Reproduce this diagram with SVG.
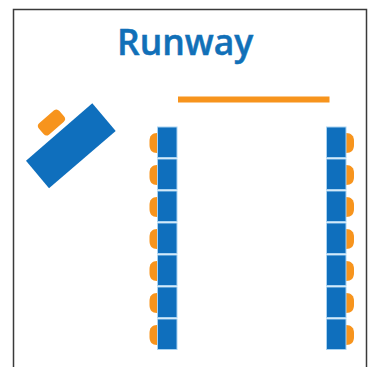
<svg xmlns="http://www.w3.org/2000/svg" width="368" height="367" viewBox="0 0 368 367">
<style>
.t{fill:#0f6fbd;stroke:#a9d3f2;stroke-width:1}
.c{fill:#f7941d}
.title{font-family:"Open Sans",sans-serif;font-weight:600;font-size:35.500px;fill:#1170b8;stroke:#1170b8;stroke-width:0.500px}
</style>
<defs>
<path id="cl" class="c" d="M158 -10H157C152 -10 149.500 -7 149.500 -2V2C149.500 7 152 10 157 10H158Z"/>
<path id="cr" class="c" d="M345 -10H346C351.500 -10 354 -7 354 -2V2C354 7 351.500 10 346 10H345Z"/>
</defs>
<rect width="368" height="367" fill="#fff"/>
<path d="M13.500 367V9.500H366.500V367" fill="none" stroke="#3a3a3a" stroke-width="1.500"/>
<text id="title" class="title" x="117" y="54.500">Runway</text>
<rect id="stage" x="178" y="96.500" width="151.500" height="6" fill="#f7941d"/>
<g id="lectern">
<rect class="c" x="-13.500" y="-7.500" width="27" height="15" rx="4" transform="translate(51.500 122.500) rotate(-40.900)"/>
<polygon points="92.300,103.300 115.700,131 49,188.300 26,160.700" fill="#0f6fbd"/>
</g>
<g id="left-row">
<use href="#cl" y="143"/><use href="#cl" y="175"/><use href="#cl" y="207"/><use href="#cl" y="239"/><use href="#cl" y="271"/><use href="#cl" y="303"/><use href="#cl" y="335"/>
<rect class="t" x="157.500" y="127" width="19.500" height="30.500"/>
<rect class="t" x="157.500" y="159" width="19.500" height="30.500"/>
<rect class="t" x="157.500" y="191" width="19.500" height="30.500"/>
<rect class="t" x="157.500" y="223" width="19.500" height="30.500"/>
<rect class="t" x="157.500" y="255" width="19.500" height="30.500"/>
<rect class="t" x="157.500" y="287" width="19.500" height="30.500"/>
<rect class="t" x="157.500" y="319" width="19.500" height="30.500"/>
</g>
<g id="right-row">
<use href="#cr" y="143"/><use href="#cr" y="175"/><use href="#cr" y="207"/><use href="#cr" y="239"/><use href="#cr" y="271"/><use href="#cr" y="303"/><use href="#cr" y="335"/>
<rect class="t" x="326.500" y="127" width="19.500" height="30.500"/>
<rect class="t" x="326.500" y="159" width="19.500" height="30.500"/>
<rect class="t" x="326.500" y="191" width="19.500" height="30.500"/>
<rect class="t" x="326.500" y="223" width="19.500" height="30.500"/>
<rect class="t" x="326.500" y="255" width="19.500" height="30.500"/>
<rect class="t" x="326.500" y="287" width="19.500" height="30.500"/>
<rect class="t" x="326.500" y="319" width="19.500" height="30.500"/>
</g>
<g id="connectors"/>
</svg>
